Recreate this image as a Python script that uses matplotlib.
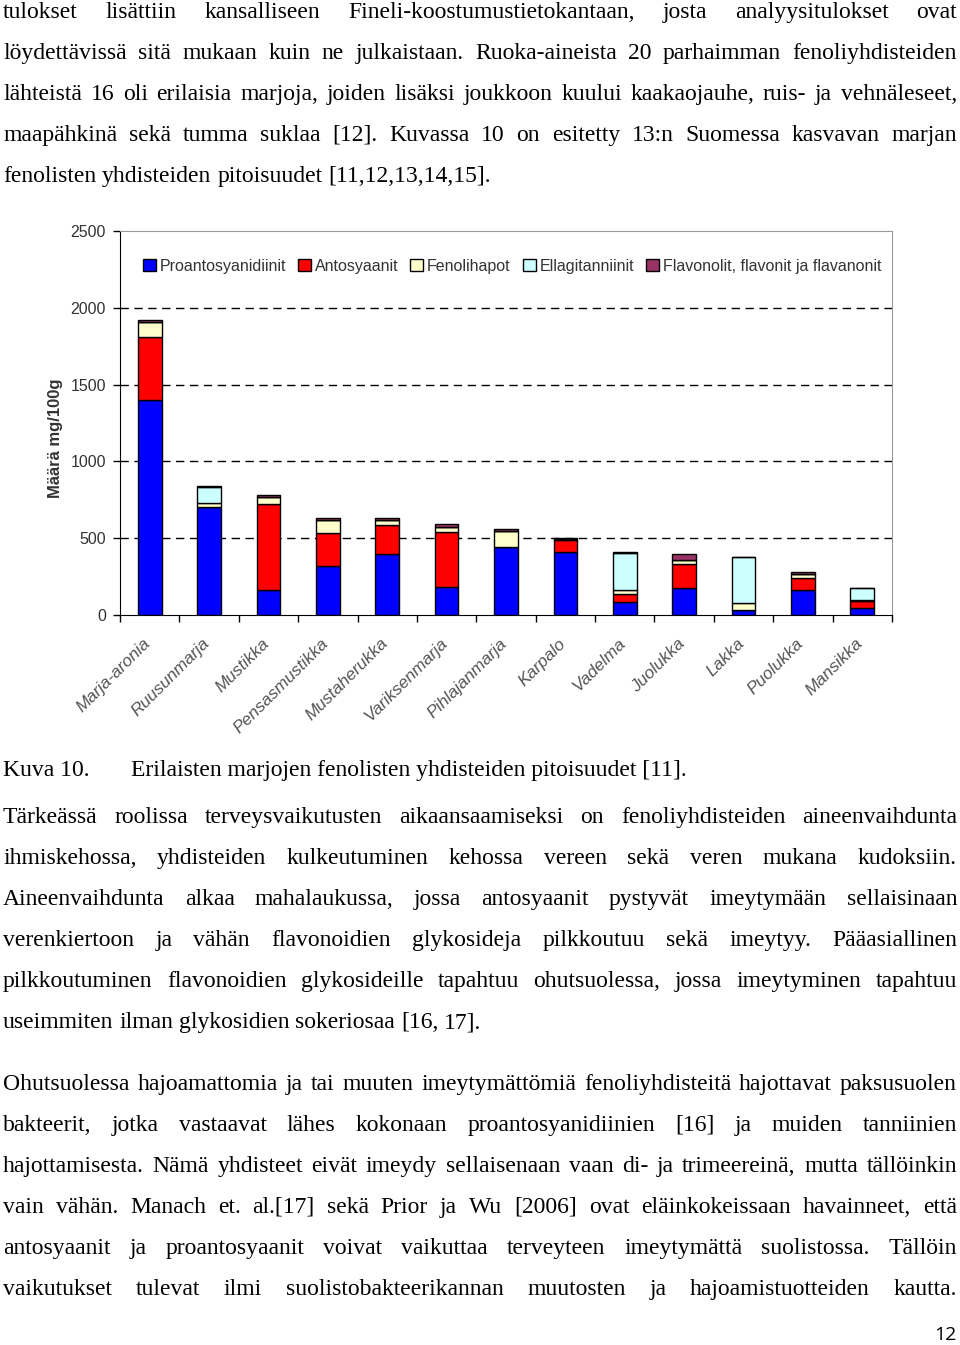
import numpy as np
import matplotlib
matplotlib.use("Agg")
import matplotlib.pyplot as plt

# -------------------------------
# Data (mg/100g)
# -------------------------------
berries = ["Marja-aronia", "Ruusunmarja", "Mustikka", "Pensasmustikka",
           "Mustaherukka", "Variksenmarja", "Pihlajanmarja", "Karpalo",
           "Vadelma", "Juolukka", "Lakka", "Puolukka", "Mansikka"]
proanto = [1400, 705, 165, 320, 396, 184, 444, 413, 87, 173, 35, 162, 45]
antosy = [410, 0, 558, 212, 191, 359, 0, 74, 49, 158, 0, 76, 48]
fenoli = [95, 27, 45, 85, 30, 33, 104, 8, 29, 26, 41, 28, 6]
ellag = [0, 100, 0, 0, 0, 0, 0, 0, 238, 0, 303, 0, 76]
flavon = [17, 8, 12, 13, 13, 15, 15, 9, 10, 39, 1, 15, 2]

series_names = ["Proantosyanidiinit", "Antosyaanit", "Fenolihapot",
                "Ellagitanniinit", "Flavonolit, flavonit ja flavanonit"]
series_colors = ["#0000ff", "#ff0000", "#ffffcc", "#ccffff", "#993366"]

# -------------------------------
# Page text
# -------------------------------
para1 = [
    "tulokset lisättiin kansalliseen Fineli-koostumustietokantaan, josta analyysitulokset ovat",
    "löydettävissä sitä mukaan kuin ne julkaistaan. Ruoka-aineista 20 parhaimman fenoliyhdisteiden",
    "lähteistä 16 oli erilaisia marjoja, joiden lisäksi joukkoon kuului kaakaojauhe, ruis- ja vehnäleseet,",
    "maapähkinä sekä tumma suklaa [12]. Kuvassa 10 on esitetty 13:n Suomessa kasvavan marjan",
    "fenolisten yhdisteiden pitoisuudet [11,12,13,14,15].",
]
para2 = [
    "Tärkeässä roolissa terveysvaikutusten aikaansaamiseksi on fenoliyhdisteiden aineenvaihdunta",
    "ihmiskehossa, yhdisteiden kulkeutuminen kehossa vereen sekä veren mukana kudoksiin.",
    "Aineenvaihdunta alkaa mahalaukussa, jossa antosyaanit pystyvät imeytymään sellaisinaan",
    "verenkiertoon ja vähän flavonoidien glykosideja pilkkoutuu sekä imeytyy. Pääasiallinen",
    "pilkkoutuminen flavonoidien glykosideille tapahtuu ohutsuolessa, jossa imeytyminen tapahtuu",
    "useimmiten ilman glykosidien sokeriosaa [16, 17].",
]
para3 = [
    "Ohutsuolessa hajoamattomia ja tai muuten imeytymättömiä fenoliyhdisteitä hajottavat paksusuolen",
    "bakteerit, jotka vastaavat lähes kokonaan proantosyanidiinien [16] ja muiden tanniinien",
    "hajottamisesta. Nämä yhdisteet eivät imeydy sellaisenaan vaan di- ja trimeereinä, mutta tällöinkin",
    "vain vähän. Manach et. al.[17] sekä Prior ja Wu [2006] ovat eläinkokeissaan havainneet, että",
    "antosyaanit ja proantosyaanit voivat vaikuttaa terveyteen imeytymättä suolistossa. Tällöin",
    "vaikutukset tulevat ilmi suolistobakteerikannan muutosten ja hajoamistuotteiden kautta.",
]

W, H = 960, 1345
fig = plt.figure(figsize=(W / 100, H / 100), dpi=100)
page = fig.add_axes([0, 0, 1, 1])
page.set_xlim(0, W)
page.set_ylim(H, 0)
page.axis("off")

renderer = fig.canvas.get_renderer()
FONT = dict(family="Liberation Serif", fontsize=17, color="black")


def text_width(t):
    return t.get_window_extent(renderer).width


def put_line(line, y, justify=True, x0=3, x1=957):
    words = line.split()
    items = [page.text(0, y, w, va="baseline", ha="left", **FONT) for w in words]
    widths = [text_width(t) for t in items]
    if justify and len(words) > 1:
        gap = (x1 - x0 - sum(widths)) / (len(words) - 1)
    else:
        probe = page.text(0, y, "a a", **FONT)
        probe2 = page.text(0, y, "aa", **FONT)
        gap = text_width(probe) - text_width(probe2)
        probe.remove()
        probe2.remove()
    x = x0
    for t, w in zip(items, widths):
        t.set_x(x)
        x += w + gap


def put_paragraph(lines, y0, step=41, last_justified=False):
    for i, line in enumerate(lines):
        last = i == len(lines) - 1
        put_line(line, y0 + i * step, justify=(not last) or last_justified)


put_paragraph(para1, 18)
page.text(3, 776, "Kuva 10.", va="baseline", **FONT)
page.text(131, 776, "Erilaisten marjojen fenolisten yhdisteiden pitoisuudet [11].",
          va="baseline", **FONT)
put_paragraph(para2, 823)
put_paragraph(para3, 1090, last_justified=True)
page.text(957, 1344, "12", va="bottom", ha="right", family="Open Sans",
          fontsize=14, color="black")

# -------------------------------
# Chart
# -------------------------------
left, right, top, bottom = 120, 892, 231, 615
ax = fig.add_axes([left / W, 1 - bottom / H, (right - left) / W, (bottom - top) / H])

x = np.arange(len(berries))
base = np.zeros(len(berries))
for vals, name, col in zip([proanto, antosy, fenoli, ellag, flavon], series_names, series_colors):
    vals = np.array(vals, dtype=float)
    ax.bar(x, vals, width=0.4, bottom=base, color=col, edgecolor="black",
           linewidth=1.0, label=name, zorder=3)
    base += vals

ax.set_xlim(-0.5, len(berries) - 0.5)
ax.set_ylim(0, 2500)
ax.set_yticks([0, 500, 1000, 1500, 2000, 2500])
ax.tick_params(axis="y", labelsize=11.5, labelcolor="#333333", length=5, width=1, pad=5)
for lab in ax.get_yticklabels():
    lab.set_family("Liberation Sans")

ax.set_xticks(np.arange(len(berries) + 1) - 0.5)
ax.set_xticklabels([])
ax.tick_params(axis="x", length=5, width=1)
for xi, name in zip(x, berries):
    ax.text(xi - 0.12, -135, name, rotation=45, rotation_mode="anchor", ha="right", va="top",
            fontsize=12.5, style="italic", family="Liberation Sans", color="#555555",
            transform=ax.transData, clip_on=False)

for yv in [500, 1000, 1500, 2000]:
    ax.axhline(yv, color="black", linestyle=(0, (6, 4)), linewidth=1.0, zorder=1)

ax.spines["top"].set_color("#999999")
ax.spines["right"].set_color("#999999")
ax.spines["left"].set_color("black")
ax.spines["bottom"].set_color("black")
ax.set_ylabel("Määrä mg/100g", fontsize=12, fontweight="bold",
              family="Liberation Sans", color="#333333")
ax.yaxis.set_label_coords(-0.074, 0.46)

ax.legend(loc="upper center", bbox_to_anchor=(0.508, 0.965), ncol=5, frameon=False,
          prop={"family": "Liberation Sans", "size": 11.5}, handlelength=0.8,
          handleheight=0.8, handletextpad=0.25, columnspacing=0.75, labelcolor="#333333")

fig.savefig("out.png", dpi=100)
